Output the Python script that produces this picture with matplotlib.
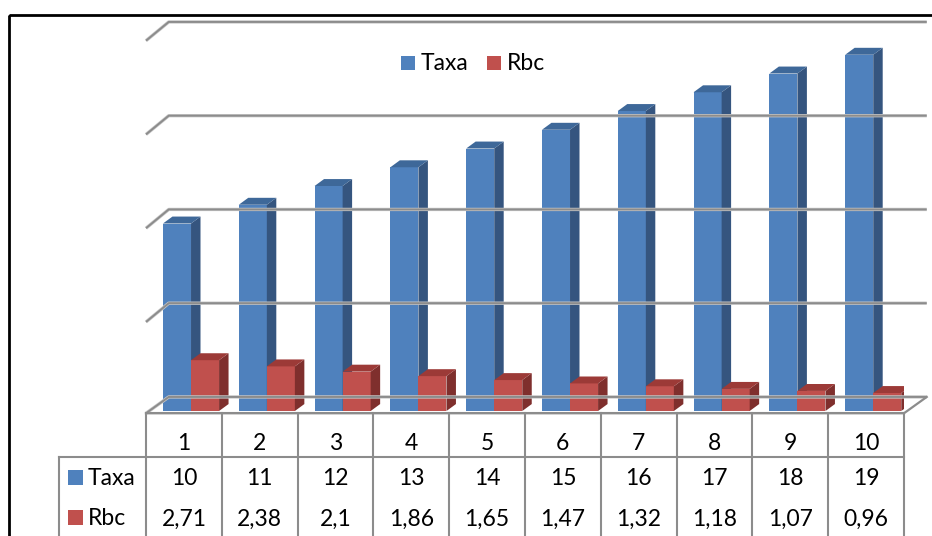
import numpy as np
import matplotlib.pyplot as plt
from matplotlib.patches import Polygon, Rectangle

plt.rcParams['font.family'] = ['Lato', 'DejaVu Sans']

# data
categories = [1, 2, 3, 4, 5, 6, 7, 8, 9, 10]
taxa = [10, 11, 12, 13, 14, 15, 16, 17, 18, 19]
rbc = [2.71, 2.38, 2.1, 1.86, 1.65, 1.47, 1.32, 1.18, 1.07, 0.96]
series_names = ['Taxa', 'Rbc']
grid_values = [0, 5, 10, 15, 20]

# colours: front / side / top faces
blue = ('#4F81BD', '#35557F', '#3E6899')
red = ('#C0504D', '#7F2F2D', '#9C3A37')
grid_col = '#8C8C8C'

W, H = 932, 536
fig = plt.figure(figsize=(W / 100, H / 100), dpi=100)

# overlay in pixel units for the frame, legend and data table
pax = fig.add_axes([0, 0, 1, 1])
pax.set_xlim(0, W)
pax.set_ylim(H, 0)
pax.axis('off')

# chart axes: one unit per category across, value units up
x_left, x_right = 146, 904
zero_px, px_per_unit = 411, 18.75
n = len(categories)
ax = fig.add_axes([x_left / W, 0, (x_right - x_left) / W, 1])
ax.set_xlim(0, n)
ax.set_ylim(-(H - zero_px) / px_per_unit, zero_px / px_per_unit)
ax.axis('off')

# 3d look: wall depth and bar depth
wall_dx, wall_dy = 0.3, 0.75
bar_dx, bar_dy = 0.125, 0.37
bar_off, bar_w = 0.224, 0.37
floor_front = -0.12

# back wall gridlines with short stubs on the left
for v in grid_values:
    front = floor_front if v == 0 else v - 0.25
    ax.plot([0, wall_dx, n + wall_dx], [front, v + wall_dy, v + wall_dy],
            color='#C8C8C8', lw=2.4, solid_capstyle='butt', clip_on=False)
    ax.plot([0, wall_dx, n + wall_dx], [front, v + wall_dy, v + wall_dy],
            color=grid_col, lw=1.4, solid_capstyle='butt', clip_on=False)
# floor outline
ax.plot([0, n, n + wall_dx], [floor_front, floor_front, wall_dy],
        color=grid_col, lw=1.6, clip_on=False)


def bar3d(x0, v, cols):
    front, side, top = cols
    ax.add_patch(Rectangle((x0, 0), bar_w, v, facecolor=front, edgecolor='none'))
    ax.add_patch(Polygon([(x0 + bar_w, 0), (x0 + bar_w + bar_dx, bar_dy),
                          (x0 + bar_w + bar_dx, v + bar_dy), (x0 + bar_w, v)],
                         facecolor=side, edgecolor='none'))
    ax.add_patch(Polygon([(x0, v), (x0 + bar_dx, v + bar_dy),
                          (x0 + bar_w + bar_dx, v + bar_dy), (x0 + bar_w, v)],
                         facecolor=top, edgecolor='none'))


for i in range(n):
    bar3d(i + bar_off, taxa[i], blue)
    bar3d(i + bar_off + bar_w, rbc[i], red)

# legend
fs = 16.5
lx = [401, 487]
for cx, name, cols in zip(lx, series_names, [blue, red]):
    pax.add_patch(Rectangle((cx, 56), 14, 14, facecolor=cols[0], edgecolor='none'))
    pax.text(cx + 20, 70, name, fontsize=fs, va='baseline', ha='left')

# data table
col_w = (x_right - x_left) / n
tcol = '#8C8C8C'
tlw = 1.5
pax.plot([x_left, x_right], [413, 413], color=tcol, lw=tlw)
pax.plot([59, x_right], [457, 457], color=tcol, lw=tlw)
pax.plot([59, 59], [457, H + 5], color=tcol, lw=tlw)
for i in range(n + 1):
    x = x_left + i * col_w
    pax.plot([x, x], [413, H + 5], color=tcol, lw=tlw)

for i in range(n):
    cx = x_left + (i + 0.5) * col_w
    pax.text(cx, 450, str(categories[i]), fontsize=fs, ha='center', va='baseline')
    pax.text(cx, 485, str(taxa[i]), fontsize=fs, ha='center', va='baseline')
    pax.text(cx, 526, f'{rbc[i]:g}'.replace('.', ','), fontsize=fs,
             ha='center', va='baseline')

for y, name, cols in zip([485, 525], series_names, [blue, red]):
    pax.add_patch(Rectangle((68, y - 15), 15, 15, facecolor=cols[0], edgecolor='none'))
    pax.text(88, y, name, fontsize=fs, ha='left', va='baseline')

# chart border
pax.add_patch(Rectangle((9, 15), W + 20, H + 20, facecolor='none',
                        edgecolor='black', lw=2))

fig.savefig('out.png', dpi=100)
